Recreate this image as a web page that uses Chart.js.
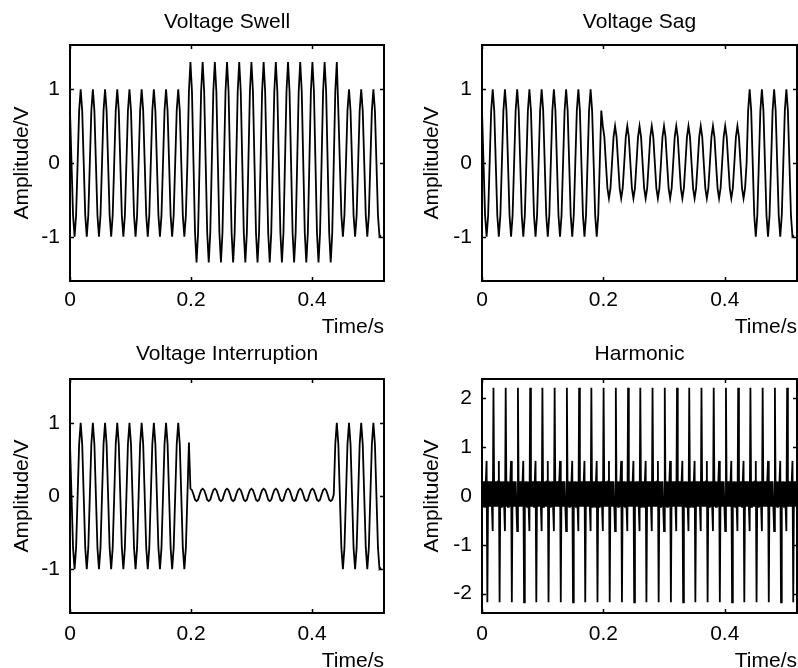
<!DOCTYPE html>
<html lang="en">
<head>
<meta charset="UTF-8">
<title>Voltage disturbances</title>
<script src="https://cdn.jsdelivr.net/npm/chart.js"></script>
<style>
  html, body { margin: 0; padding: 0; background: #fff; }
  #wrap { position: relative; width: 798px; height: 668px; overflow: hidden; }
  canvas { position: absolute; }
</style>
</head>
<body>
<div id="wrap">
  <canvas id="swellChart" width="399" height="334" style="left:0;top:0"></canvas>
  <canvas id="sagChart" width="399" height="334" style="left:399px;top:0"></canvas>
  <canvas id="interruptChart" width="399" height="334" style="left:0;top:334px"></canvas>
  <canvas id="harmonicChart" width="399" height="334" style="left:399px;top:334px"></canvas>
</div>
<script>
// ----------- data ----------------------------------
const sampleStep = 0.00252;    // s between samples: swell / sag / interruption
const harmonicStep = 0.00126;  // s between samples: harmonic
const timeMax = 0.519;

const timeTicks = [0, 0.2, 0.4];
const ampTicks = [-1, 0, 1];
const harmonicTicks = [-2, -1, 0, 1, 2];

const swellValues = [
  0.71, 0, -0.71, -1, -0.71, 0, 0.71, 1,
  0.71, 0, -0.71, -1, -0.71, 0, 0.71, 1,
  0.71, 0, -0.71, -1, -0.71, 0, 0.71, 1,
  0.71, 0, -0.71, -1, -0.71, 0, 0.71, 1,
  0.71, 0, -0.71, -1, -0.71, 0, 0.71, 1,
  0.71, 0, -0.71, -1, -0.71, 0, 0.71, 1,
  0.71, 0, -0.71, -1, -0.71, 0, 0.71, 1,
  0.71, 0, -0.71, -1, -0.71, 0, 0.71, 1,
  0.71, 0, -0.71, -1, -0.71, 0, 0.71, 1,
  0.71, 0, -0.71, -1, -0.71, 0,
  0.97, 1.37,
  0.97, 0, -0.95, -1.35, -0.95, 0, 0.97, 1.37,
  0.97, 0, -0.95, -1.35, -0.95, 0, 0.97, 1.37,
  0.97, 0, -0.95, -1.35, -0.95, 0, 0.97, 1.37,
  0.97, 0, -0.95, -1.35, -0.95, 0, 0.97, 1.37,
  0.97, 0, -0.95, -1.35, -0.95, 0, 0.97, 1.37,
  0.97, 0, -0.95, -1.35, -0.95, 0, 0.97, 1.37,
  0.97, 0, -0.95, -1.35, -0.95, 0, 0.97, 1.37,
  0.97, 0, -0.95, -1.35, -0.95, 0, 0.97, 1.37,
  0.97, 0, -0.95, -1.35, -0.95, 0, 0.97, 1.37,
  0.97, 0, -0.95, -1.35, -0.95, 0, 0.97, 1.37,
  0.97, 0, -0.95, -1.35, -0.95, 0, 0.97, 1.37,
  0.97, 0, -0.95, -1.35, -0.95, 0, 0.97, 1.37,
  0.71, 0, -0.71, -1, -0.71, 0, 0.71, 1,
  0.71, 0, -0.71, -1, -0.71, 0, 0.71, 1,
  0.71, 0, -0.71, -1, -0.71, 0, 0.71, 1,
  0.71, 0, -0.71, -1, -0.98
];

const sagValues = [
  0.71, 0, -0.71, -1, -0.71, 0, 0.71, 1,
  0.71, 0, -0.71, -1, -0.71, 0, 0.71, 1,
  0.71, 0, -0.71, -1, -0.71, 0, 0.71, 1,
  0.71, 0, -0.71, -1, -0.71, 0, 0.71, 1,
  0.71, 0, -0.71, -1, -0.71, 0, 0.71, 1,
  0.71, 0, -0.71, -1, -0.71, 0, 0.71, 1,
  0.71, 0, -0.71, -1, -0.71, 0, 0.71, 1,
  0.71, 0, -0.71, -1, -0.71, 0, 0.71, 1,
  0.71, 0, -0.71, -1, -0.71, 0, 0.71, 1,
  0.71, 0, -0.71, -1, -0.71, 0,
  0.71, 0.5,
  0.35, 0, -0.34, -0.48, -0.34, 0, 0.35, 0.5,
  0.35, 0, -0.34, -0.48, -0.34, 0, 0.35, 0.5,
  0.35, 0, -0.34, -0.48, -0.34, 0, 0.35, 0.5,
  0.35, 0, -0.34, -0.48, -0.34, 0, 0.35, 0.5,
  0.35, 0, -0.34, -0.48, -0.34, 0, 0.35, 0.5,
  0.35, 0, -0.34, -0.48, -0.34, 0, 0.35, 0.5,
  0.35, 0, -0.34, -0.48, -0.34, 0, 0.35, 0.5,
  0.35, 0, -0.34, -0.48, -0.34, 0, 0.35, 0.5,
  0.35, 0, -0.34, -0.48, -0.34, 0, 0.35, 0.5,
  0.35, 0, -0.34, -0.48, -0.34, 0, 0.35, 0.5,
  0.35, 0, -0.34, -0.48, -0.34, 0, 0.35, 0.5,
  0.35, 0, -0.34, -0.48, -0.34,
  0, 0.71, 1,
  0.71, 0, -0.71, -1, -0.71, 0, 0.71, 1,
  0.71, 0, -0.71, -1, -0.71, 0, 0.71, 1,
  0.71, 0, -0.71, -1, -0.71, 0, 0.71, 1,
  0.71, 0, -0.71, -1, -0.98
];

const interruptValues = [
  0.71, 0, -0.71, -1, -0.71, 0, 0.71, 1,
  0.71, 0, -0.71, -1, -0.71, 0, 0.71, 1,
  0.71, 0, -0.71, -1, -0.71, 0, 0.71, 1,
  0.71, 0, -0.71, -1, -0.71, 0, 0.71, 1,
  0.71, 0, -0.71, -1, -0.71, 0, 0.71, 1,
  0.71, 0, -0.71, -1, -0.71, 0, 0.71, 1,
  0.71, 0, -0.71, -1, -0.71, 0, 0.71, 1,
  0.71, 0, -0.71, -1, -0.71, 0, 0.71, 1,
  0.71, 0, -0.71, -1, -0.71, 0, 0.71, 1,
  0.71, 0, -0.71, -1, -0.71, 0,
  0.73, 0.1,
  0.08, 0.02, -0.05, -0.07, -0.05, 0.02, 0.08, 0.1,
  0.08, 0.02, -0.05, -0.07, -0.05, 0.02, 0.08, 0.1,
  0.08, 0.02, -0.05, -0.07, -0.05, 0.02, 0.08, 0.1,
  0.08, 0.02, -0.05, -0.07, -0.05, 0.02, 0.08, 0.1,
  0.08, 0.02, -0.05, -0.07, -0.05, 0.02, 0.08, 0.1,
  0.08, 0.02, -0.05, -0.07, -0.05, 0.02, 0.08, 0.1,
  0.08, 0.02, -0.05, -0.07, -0.05, 0.02, 0.08, 0.1,
  0.08, 0.02, -0.05, -0.07, -0.05, 0.02, 0.08, 0.1,
  0.08, 0.02, -0.05, -0.07, -0.05, 0.02, 0.08, 0.1,
  0.08, 0.02, -0.05, -0.07, -0.05, 0.02, 0.08, 0.1,
  0.08, 0.02, -0.05, -0.07, -0.05, 0.02, 0.08, 0.1,
  0.08, 0.02, -0.05, -0.07, -0.05,
  0.02, 0.71, 1,
  0.71, 0, -0.71, -1, -0.71, 0, 0.71, 1,
  0.71, 0, -0.71, -1, -0.71, 0, 0.71, 1,
  0.71, 0, -0.71, -1, -0.71, 0, 0.71, 1,
  0.71, 0, -0.71, -1, -0.98
];

const harmonicValues = [
  -0.22, 0.3, -0.22, 0.3, -0.22, 0.3, 0.72, -2.18, 0.3, -0.22, 0.3, -0.22, 0.3, -0.22, -0.72, 2.22,
  -0.22, 0.3, -0.22, 0.3, -0.22, 0.3, 0.72, -2.18, 0.3, -0.22, 0.3, -0.22, 0.3, -0.22, -0.72, 2.22,
  -0.22, 0.3, -0.22, 0.3, -0.22, 0.3, 0.72, -2.18, 0.3, -0.22, 0.3, -0.22, 0.3, -0.22, -0.72, 2.22,
  -0.22, 0.3, -0.22, 0.3, -0.22, 0.3, 0.72, -2.18, 0.3, -0.22, 0.3, -0.22, 0.3, -0.22, -0.72, 2.22,
  -0.22, 0.3, -0.22, 0.3, -0.22, 0.3, 0.72, -2.18, 0.3, -0.22, 0.3, -0.22, 0.3, -0.22, -0.72, 2.22,
  -0.22, 0.3, -0.22, 0.3, -0.22, 0.3, 0.72, -2.18, 0.3, -0.22, 0.3, -0.22, 0.3, -0.22, -0.72, 2.22,
  -0.22, 0.3, -0.22, 0.3, -0.22, 0.3, 0.72, -2.18, 0.3, -0.22, 0.3, -0.22, 0.3, -0.22, -0.72, 2.22,
  -0.22, 0.3, -0.22, 0.3, -0.22, 0.3, 0.72, -2.18, 0.3, -0.22, 0.3, -0.22, 0.3, -0.22, -0.72, 2.22,
  -0.22, 0.3, -0.22, 0.3, -0.22, 0.3, 0.72, -2.18, 0.3, -0.22, 0.3, -0.22, 0.3, -0.22, -0.72, 2.22,
  -0.22, 0.3, -0.22, 0.3, -0.22, 0.3, 0.72, -2.18, 0.3, -0.22, 0.3, -0.22, 0.3, -0.22, -0.72, 2.22,
  -0.22, 0.3, -0.22, 0.3, -0.22, 0.3, 0.72, -2.18, 0.3, -0.22, 0.3, -0.22, 0.3, -0.22, -0.72, 2.22,
  -0.22, 0.3, -0.22, 0.3, -0.22, 0.3, 0.72, -2.18, 0.3, -0.22, 0.3, -0.22, 0.3, -0.22, -0.72, 2.22,
  -0.22, 0.3, -0.22, 0.3, -0.22, 0.3, 0.72, -2.18, 0.3, -0.22, 0.3, -0.22, 0.3, -0.22, -0.72, 2.22,
  -0.22, 0.3, -0.22, 0.3, -0.22, 0.3, 0.72, -2.18, 0.3, -0.22, 0.3, -0.22, 0.3, -0.22, -0.72, 2.22,
  -0.22, 0.3, -0.22, 0.3, -0.22, 0.3, 0.72, -2.18, 0.3, -0.22, 0.3, -0.22, 0.3, -0.22, -0.72, 2.22,
  -0.22, 0.3, -0.22, 0.3, -0.22, 0.3, 0.72, -2.18, 0.3, -0.22, 0.3, -0.22, 0.3, -0.22, -0.72, 2.22,
  -0.22, 0.3, -0.22, 0.3, -0.22, 0.3, 0.72, -2.18, 0.3, -0.22, 0.3, -0.22, 0.3, -0.22, -0.72, 2.22,
  -0.22, 0.3, -0.22, 0.3, -0.22, 0.3, 0.72, -2.18, 0.3, -0.22, 0.3, -0.22, 0.3, -0.22, -0.72, 2.22,
  -0.22, 0.3, -0.22, 0.3, -0.22, 0.3, 0.72, -2.18, 0.3, -0.22, 0.3, -0.22, 0.3, -0.22, -0.72, 2.22,
  -0.22, 0.3, -0.22, 0.3, -0.22, 0.3, 0.72, -2.18, 0.3, -0.22, 0.3, -0.22, 0.3, -0.22, -0.72, 2.22,
  -0.22, 0.3, -0.22, 0.3, -0.22, 0.3, 0.72, -2.18, 0.3, -0.22, 0.3, -0.22, 0.3, -0.22, -0.72, 2.22,
  -0.22, 0.3, -0.22, 0.3, -0.22, 0.3, 0.72, -2.18, 0.3, -0.22, 0.3, -0.22, 0.3, -0.22, -0.72, 2.22,
  -0.22, 0.3, -0.22, 0.3, -0.22, 0.3, 0.72, -2.18, 0.3, -0.22, 0.3, -0.22, 0.3, -0.22, -0.72, 2.22,
  -0.22, 0.3, -0.22, 0.3, -0.22, 0.3, 0.72, -2.18, 0.3, -0.22, 0.3, -0.22, 0.3, -0.22, -0.72, 2.22,
  -0.22, 0.3, -0.22, 0.3, -0.22, 0.3, 0.72, -2.18, 0.3, -0.22, 0.3, -0.22, 0.3, -0.22, -0.72, 2.22,
  -0.22, 0.3, -0.22, 0.3, -0.22, 0.3, 0.72, -2.18, 0.3, -0.22, 0.3, -0.22, 0.3
];

// ----------- drawing ------------
const FONT = "'Liberation Sans', Arial, sans-serif";
const FONT_SIZE = 21;
const INK = '#000';

// box round the plot area with small inward ticks, MATLAB style
const framePlugin = {
  id: 'frame',
  afterDraw(chart) {
    const { ctx, chartArea: a, scales: { x, y } } = chart;
    ctx.save();
    ctx.strokeStyle = INK;
    ctx.lineWidth = 2;
    ctx.strokeRect(a.left, a.top, a.right - a.left, a.bottom - a.top);
    ctx.lineWidth = 1.5;
    ctx.beginPath();
    x.ticks.forEach(t => {
      const px = Math.round(x.getPixelForValue(t.value)) + 0.5;
      ctx.moveTo(px, a.bottom); ctx.lineTo(px, a.bottom - 4);
      ctx.moveTo(px, a.top); ctx.lineTo(px, a.top + 4);
    });
    y.ticks.forEach(t => {
      const py = Math.round(y.getPixelForValue(t.value)) + 0.5;
      ctx.moveTo(a.left, py); ctx.lineTo(a.left + 4, py);
      ctx.moveTo(a.right, py); ctx.lineTo(a.right - 4, py);
    });
    ctx.stroke();
    ctx.restore();
  }
};

function makePanel(id, title, values, step, yTicks, yMax, o) {
  const points = values.map((v, i) => ({ x: i * step, y: v }));
  const font = { family: FONT, size: FONT_SIZE, weight: 'normal' };
  return new Chart(document.getElementById(id), {
    type: 'line',
    data: {
      datasets: [{
        data: points,
        borderColor: INK,
        borderWidth: 1.8,
        pointRadius: 0,
        tension: 0,
        fill: false
      }]
    },
    options: {
      responsive: false,
      animation: false,
      devicePixelRatio: 1,
      events: [],
      layout: { padding: { right: o.padRight } },
      scales: {
        x: {
          type: 'linear',
          min: 0,
          max: timeMax,
          grid: { display: false, drawTicks: false },
          border: { display: false },
          afterBuildTicks: s => { s.ticks = timeTicks.map(v => ({ value: v })); },
          afterFit: s => { s.height = o.xHeight; },
          ticks: { font, color: INK, padding: o.xTickPad, maxRotation: 0 },
          title: {
            display: true, text: 'Time/s', align: 'end', color: INK,
            font: { ...font, lineHeight: 0.667 },
            padding: { top: 0, bottom: 0 }
          }
        },
        y: {
          type: 'linear',
          min: -yMax,
          max: yMax,
          grid: { display: false, drawTicks: false },
          border: { display: false },
          afterBuildTicks: s => { s.ticks = yTicks.map(v => ({ value: v })); },
          afterFit: s => { s.width = o.yWidth; },
          ticks: { font, color: INK, padding: 10 },
          title: {
            display: true, text: 'Amplitude/V', color: INK, font,
            padding: { top: o.yTitlePad, bottom: 0 }
          }
        }
      },
      plugins: {
        legend: { display: false },
        tooltip: { enabled: false },
        title: {
          display: true, text: title, fullSize: false, color: INK, font,
          padding: { top: o.titleTop, bottom: o.titleBottom }
        }
      }
    },
    plugins: [framePlugin]
  });
}

const topRow = { xHeight: 53, xTickPad: 6.4, titleTop: 9.4, titleBottom: 10.4 };
const bottomRow = { xHeight: 55, xTickPad: 8.4, titleTop: 7.4, titleBottom: 12.4 };
const leftCol = { yWidth: 70, yTitlePad: 9.4, padRight: 15 };
const rightCol = { yWidth: 83, yTitlePad: 20.4, padRight: 1 };

makePanel('swellChart', 'Voltage Swell', swellValues, sampleStep, ampTicks, 1.6, { ...topRow, ...leftCol });
makePanel('sagChart', 'Voltage Sag', sagValues, sampleStep, ampTicks, 1.6, { ...topRow, ...rightCol });
makePanel('interruptChart', 'Voltage Interruption', interruptValues, sampleStep, ampTicks, 1.6, { ...bottomRow, ...leftCol });
makePanel('harmonicChart', 'Harmonic', harmonicValues, harmonicStep, harmonicTicks, 2.4, { ...bottomRow, ...rightCol });
</script>
</body>
</html>
